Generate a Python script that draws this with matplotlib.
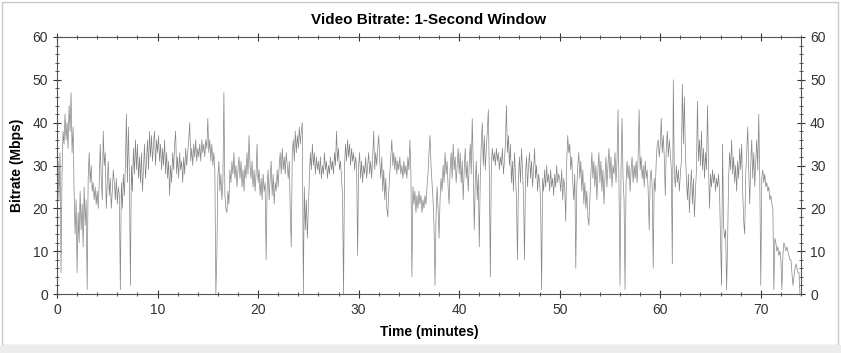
import numpy as np
import matplotlib
matplotlib.use("Agg")
import matplotlib.pyplot as plt
from matplotlib.patches import Rectangle
from matplotlib.ticker import MultipleLocator

plt.rcParams["font.family"] = ["Liberation Sans", "DejaVu Sans"]

# bitrate samples (Mbps), one every 0.1 minute
STEP_MIN = 0.1

rate_00_10 = [
    24, 31, 22, 33, 5, 28, 38, 35, 42, 36,
    40, 34, 44, 38, 47, 33, 39, 24, 14, 22,
    5, 19, 12, 24, 15, 21, 11, 25, 16, 22,
    1, 27, 33, 26, 30, 24, 26, 22, 25, 21,
    24, 20, 26, 35, 27, 22, 38, 30, 33, 20,
    26, 31, 23, 27, 20, 24, 29, 26, 22, 27,
    21, 25, 23, 1, 26, 20, 28, 23, 30, 42,
    26, 39, 28, 2, 30, 24, 34, 28, 36, 29,
    35, 27, 32, 26, 33, 24, 29, 35, 27, 31,
    36, 29, 38, 32, 37, 31, 35, 38, 30, 36,
]
rate_10_20 = [
    33, 37, 31, 35, 29, 34, 30, 36, 28, 33,
    27, 31, 23, 30, 26, 33, 29, 35, 38, 28,
    32, 27, 33, 29, 31, 26, 32, 28, 34, 30,
    33, 36, 40, 31, 34, 30, 35, 32, 36, 31,
    34, 32, 35, 31, 36, 33, 35, 32, 36, 34,
    41, 33, 36, 31, 35, 30, 33, 29, 0, 9,
    27, 31, 24, 28, 22, 26, 47, 23, 20, 19,
    24, 21, 29, 26, 31, 28, 33, 27, 30, 25,
    29, 32, 27, 31, 25, 29, 24, 30, 27, 33,
    28, 37, 30, 27, 31, 25, 29, 24, 28, 35,
]
rate_20_30 = [
    26, 29, 23, 27, 22, 28, 24, 26, 8, 25,
    29, 22, 27, 31, 23, 28, 21, 26, 24, 29,
    25, 30, 33, 28, 34, 29, 32, 28, 33, 30,
    27, 31, 19, 11, 33, 36, 31, 38, 33, 37,
    34, 39, 35, 38, 40, 0, 25, 15, 22, 13,
    20, 27, 33, 29, 35, 30, 33, 28, 32, 29,
    31, 28, 32, 27, 30, 28, 33, 29, 31, 27,
    30, 28, 32, 29, 31, 28, 33, 30, 38, 31,
    34, 29, 31, 27, 23, 0, 30, 35, 31, 36,
    32, 35, 30, 34, 31, 33, 29, 32, 30, 9,
]
rate_30_40 = [
    30, 33, 27, 31, 26, 30, 28, 32, 27, 30,
    33, 28, 31, 27, 32, 38, 29, 33, 30, 34,
    37, 31, 27, 32, 24, 29, 22, 27, 20, 18,
    24, 28, 32, 36, 30, 33, 29, 32, 28, 31,
    29, 32, 28, 30, 27, 31, 28, 30, 27, 32,
    29, 36, 28, 4, 25, 21, 24, 19, 23, 20,
    24, 21, 23, 19, 22, 20, 23, 21, 25, 28,
    33, 37, 30, 26, 22, 16, 2, 18, 25, 20,
    13, 22, 27, 24, 30, 26, 33, 28, 31, 25,
    21, 29, 33, 27, 35, 29, 32, 26, 30, 34,
]
rate_40_50 = [
    28, 33, 26, 31, 22, 29, 34, 27, 31, 24,
    30, 35, 28, 41, 30, 15, 26, 31, 22, 28,
    11, 27, 35, 40, 30, 37, 29, 34, 38, 43,
    28, 4, 30, 34, 31, 33, 30, 34, 31, 33,
    29, 32, 30, 34, 28, 31, 35, 44, 33, 37,
    30, 35, 26, 31, 24, 33, 28, 22, 8, 27,
    32, 26, 34, 29, 23, 8, 28, 32, 25, 30,
    33, 27, 31, 25, 29, 34, 27, 30, 24, 28,
    26, 22, 1, 27, 24, 29, 25, 30, 26, 28,
    24, 29, 25, 27, 23, 28, 25, 30, 26, 28,
]
rate_50_60 = [
    27, 24, 29, 22, 27, 25, 17, 31, 37, 33,
    35, 29, 32, 26, 22, 28, 6, 25, 30, 33,
    27, 31, 24, 29, 21, 26, 20, 24, 18, 16,
    22, 28, 33, 27, 31, 25, 30, 22, 29, 33,
    26, 31, 24, 29, 21, 27, 32, 25, 30, 34,
    27, 32, 25, 30, 28, 33, 26, 31, 43, 24,
    2, 29, 41, 27, 22, 1, 26, 31, 27, 30,
    24, 29, 32, 26, 30, 27, 31, 26, 32, 43,
    29, 32, 27, 30, 25, 31, 27, 29, 24, 15,
    27, 29, 25, 6, 27, 24, 31, 35, 36, 32,
]
rate_60_70 = [
    35, 41, 33, 37, 32, 23, 34, 38, 32, 36,
    33, 29, 7, 50, 28, 25, 30, 26, 29, 24,
    28, 31, 49, 35, 46, 33, 27, 22, 28, 19,
    25, 29, 21, 27, 18, 24, 29, 45, 31, 36,
    30, 38, 29, 34, 27, 33, 29, 44, 30, 20,
    28, 25, 29, 26, 28, 24, 27, 25, 28, 24,
    12, 2, 35, 16, 13, 15, 1, 12, 27, 33,
    29, 36, 28, 32, 26, 30, 24, 31, 27, 34,
    29, 35, 24, 17, 14, 28, 33, 39, 29, 21,
    30, 36, 27, 33, 25, 31, 36, 29, 42, 27,
]
rate_70_74 = [
    2, 27, 29, 26, 28, 25, 26, 24, 25, 22,
    23, 21, 20, 1, 13, 12, 10, 11, 9, 10,
    8, 1, 9, 12, 11, 10, 11, 10, 9, 8,
    8, 5, 2, 4, 6, 7, 6, 5, 5, 0,
]

bitrate = np.array(rate_00_10 + rate_10_20 + rate_20_30 + rate_30_40
                   + rate_40_50 + rate_50_60 + rate_60_70 + rate_70_74, dtype=float)
minutes = np.arange(len(bitrate)) * STEP_MIN

fig = plt.figure(figsize=(8.41, 3.53), dpi=100)
ax = fig.add_axes([57 / 841, 1 - 294 / 353, (801 - 57) / 841, (294 - 37) / 353])

ax.plot(minutes, bitrate, color="#858585", linewidth=0.5)

ax.set_xlim(0, 74)
ax.set_ylim(0, 60)
ax.xaxis.set_major_locator(MultipleLocator(10))
ax.xaxis.set_minor_locator(MultipleLocator(2))
ax.yaxis.set_major_locator(MultipleLocator(10))
ax.yaxis.set_minor_locator(MultipleLocator(2))
ax.tick_params(which="both", direction="inout", top=True, right=True,
               labelright=True, colors="#333333", labelsize=10)
ax.tick_params(which="major", length=6)
ax.tick_params(which="minor", length=3)
for s in ax.spines.values():
    s.set_color("#555555")
    s.set_linewidth(0.8)

ax.set_title("Video Bitrate: 1-Second Window", fontsize=11, fontweight="bold", pad=9)
ax.set_xlabel("Time (minutes)", fontsize=10, fontweight="bold", labelpad=6)
ax.set_ylabel("Bitrate (Mbps)", fontsize=10, fontweight="bold", labelpad=6)

# outer frame like the screenshot
fig.patches.append(Rectangle((0.002, 8 / 353), 0.995, 1 - 10 / 353, transform=fig.transFigure,
                             fill=False, edgecolor="#c8c8c8", linewidth=1))
fig.patches.append(Rectangle((0, 0), 1, 8 / 353, transform=fig.transFigure,
                             facecolor="#ececec", edgecolor="none"))

plt.savefig("out.png", dpi=100)
